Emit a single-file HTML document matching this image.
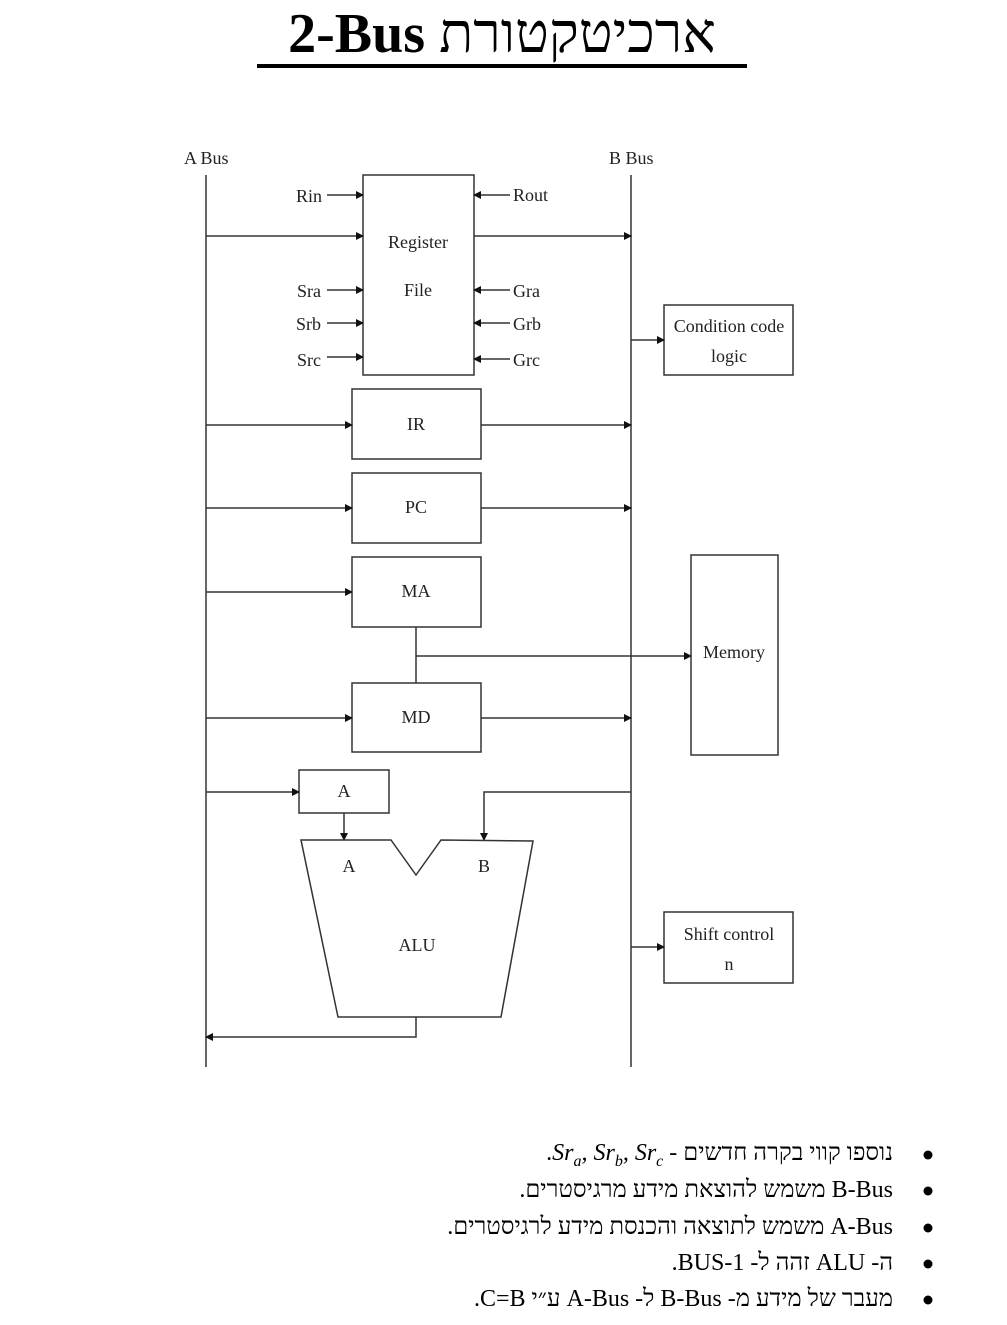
<!DOCTYPE html>
<html><head><meta charset="utf-8"><style>
html,body{margin:0;padding:0;background:#fff;}
body{width:1007px;height:1325px;overflow:hidden;position:relative;}
svg{position:absolute;left:0;top:0;}
.t{font-family:"Liberation Serif",serif;font-size:18px;fill:#222;}
.title{position:absolute;left:257px;top:2px;width:490px;height:64px;text-align:center;font-family:"Liberation Serif","DejaVu Serif",serif;font-size:56px;line-height:64px;white-space:nowrap;color:#000;}
.bl{position:absolute;right:114px;width:700px;text-align:right;font-family:"Liberation Serif","DejaVu Serif",serif;font-size:24px;line-height:30px;white-space:nowrap;color:#000;}
.bl sub{font-size:16px;line-height:0;}
</style></head><body>
<div class="title" dir="ltr"><b>2-Bus</b> <span dir="rtl">ארכיטקטורת</span></div>
<div class="bl" dir="rtl" style="top:1138px">נוספו קווי בקרה חדשים - <i dir="ltr">Sr<sub>a</sub>, Sr<sub>b</sub>, Sr<sub>c</sub></i>.</div>
<div class="bl" dir="rtl" style="top:1175px">B-Bus משמש להוצאת מידע מרגיסטרים.</div>
<div class="bl" dir="rtl" style="top:1212px">A-Bus משמש לתוצאה והכנסת מידע לרגיסטרים.</div>
<div class="bl" dir="rtl" style="top:1248px">ה- ALU זהה ל- 1-BUS.</div>
<div class="bl" dir="rtl" style="top:1284px">מעבר של מידע מ- B-Bus ל-  A-Bus ע״י C=B.</div>
<svg width="1007" height="1325" viewBox="0 0 1007 1325" xmlns="http://www.w3.org/2000/svg">
<defs>
<marker id="ar" markerWidth="8" markerHeight="8" refX="7" refY="4" orient="auto" markerUnits="userSpaceOnUse">
<path d="M0,0 L8,4 L0,8 z" fill="#111"/></marker>
</defs>
<rect x="257" y="64" width="490" height="4" fill="#000"/>

<g stroke="#333" stroke-width="1.5" fill="none">
<line x1="206" y1="175" x2="206" y2="1067"/>
<line x1="631" y1="175" x2="631" y2="1067"/>
<rect x="363" y="175" width="111" height="200"/>
<line x1="327" y1="195" x2="363" y2="195" marker-end="url(#ar)"/>
<line x1="510" y1="195" x2="474" y2="195" marker-end="url(#ar)"/>
<line x1="206" y1="236" x2="363" y2="236" marker-end="url(#ar)"/>
<line x1="474" y1="236" x2="631" y2="236" marker-end="url(#ar)"/>
<line x1="327" y1="290" x2="363" y2="290" marker-end="url(#ar)"/>
<line x1="327" y1="323" x2="363" y2="323" marker-end="url(#ar)"/>
<line x1="327" y1="357" x2="363" y2="357" marker-end="url(#ar)"/>
<line x1="510" y1="290" x2="474" y2="290" marker-end="url(#ar)"/>
<line x1="510" y1="323" x2="474" y2="323" marker-end="url(#ar)"/>
<line x1="510" y1="359" x2="474" y2="359" marker-end="url(#ar)"/>
<rect x="664" y="305" width="129" height="70"/>
<line x1="631" y1="340" x2="664" y2="340" marker-end="url(#ar)"/>
<rect x="352" y="389" width="129" height="70"/>
<line x1="206" y1="425" x2="352" y2="425" marker-end="url(#ar)"/>
<line x1="481" y1="425" x2="631" y2="425" marker-end="url(#ar)"/>
<rect x="352" y="473" width="129" height="70"/>
<line x1="206" y1="508" x2="352" y2="508" marker-end="url(#ar)"/>
<line x1="481" y1="508" x2="631" y2="508" marker-end="url(#ar)"/>
<rect x="352" y="557" width="129" height="70"/>
<line x1="206" y1="592" x2="352" y2="592" marker-end="url(#ar)"/>
<line x1="416" y1="627" x2="416" y2="683"/>
<line x1="416" y1="656" x2="691" y2="656" marker-end="url(#ar)"/>
<rect x="691" y="555" width="87" height="200"/>
<rect x="352" y="683" width="129" height="69"/>
<line x1="206" y1="718" x2="352" y2="718" marker-end="url(#ar)"/>
<line x1="481" y1="718" x2="631" y2="718" marker-end="url(#ar)"/>
<rect x="299" y="770" width="90" height="43"/>
<line x1="206" y1="792" x2="299" y2="792" marker-end="url(#ar)"/>
<line x1="344" y1="813" x2="344" y2="840" marker-end="url(#ar)"/>
<polyline points="631,792 484,792 484,840" marker-end="url(#ar)"/>
<polygon points="301,840 391,840 416,875 441,840 533,841 501,1017 338,1017"/>
<polyline points="416,1017 416,1037 206,1037" marker-end="url(#ar)"/>
<rect x="664" y="912" width="129" height="71"/>
<line x1="631" y1="947" x2="664" y2="947" marker-end="url(#ar)"/>
</g>

<g class="t">
<text x="184" y="164">A Bus</text>
<text x="609" y="164">B Bus</text>
<text x="296" y="202">Rin</text>
<text x="513" y="201">Rout</text>
<text x="418" y="248" text-anchor="middle">Register</text>
<text x="418" y="296" text-anchor="middle">File</text>
<text x="297" y="297">Sra</text>
<text x="296" y="330">Srb</text>
<text x="297" y="366">Src</text>
<text x="513" y="297">Gra</text>
<text x="513" y="330">Grb</text>
<text x="513" y="366">Grc</text>
<text x="729" y="332" text-anchor="middle">Condition code</text>
<text x="729" y="362" text-anchor="middle">logic</text>
<text x="416" y="430" text-anchor="middle">IR</text>
<text x="416" y="513" text-anchor="middle">PC</text>
<text x="416" y="597" text-anchor="middle">MA</text>
<text x="734" y="658" text-anchor="middle">Memory</text>
<text x="416" y="723" text-anchor="middle">MD</text>
<text x="344" y="797" text-anchor="middle">A</text>
<text x="349" y="872" text-anchor="middle">A</text>
<text x="484" y="872" text-anchor="middle">B</text>
<text x="417" y="951" text-anchor="middle">ALU</text>
<text x="729" y="940" text-anchor="middle">Shift control</text>
<text x="729" y="970" text-anchor="middle">n</text>
</g>

<g fill="#000">
<circle cx="928" cy="1155" r="4.5"/>
<circle cx="928" cy="1191" r="4.5"/>
<circle cx="928" cy="1228" r="4.5"/>
<circle cx="928" cy="1264" r="4.5"/>
<circle cx="928" cy="1300" r="4.5"/>
</g>
</svg>
</body></html>
